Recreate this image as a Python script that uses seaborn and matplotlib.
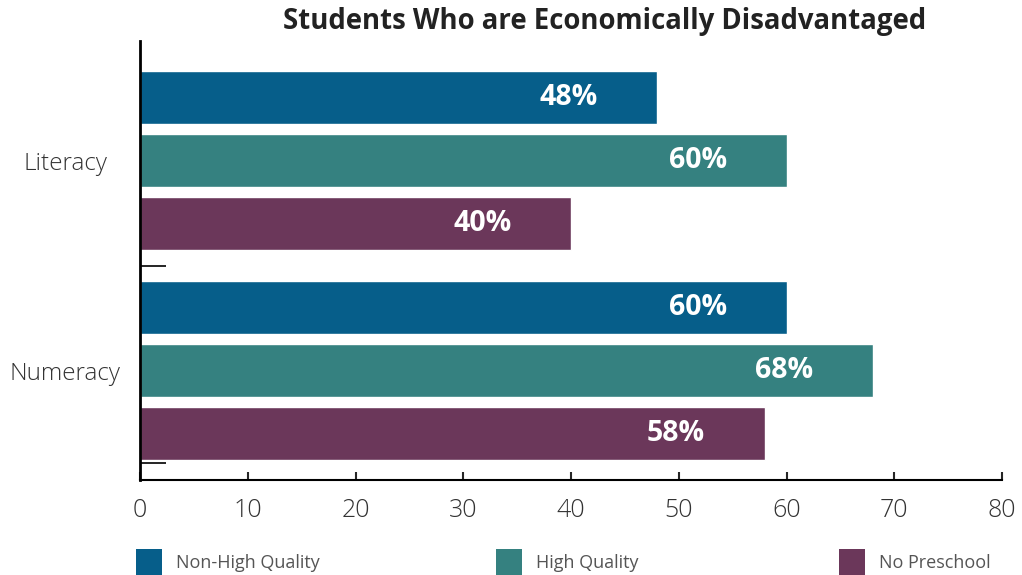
import pandas as pd
import seaborn as sns
import matplotlib.pyplot as plt
from matplotlib.patches import Patch

# Chart data
subjects = ['Literacy', 'Numeracy']
groups = ['Non-High Quality', 'High Quality', 'No Preschool']
literacy_vals = [48, 60, 40]
numeracy_vals = [60, 68, 58]
x_ticks = [0, 10, 20, 30, 40, 50, 60, 70, 80]
palette = ['#065e8a', '#358180', '#6b375a']

df = pd.DataFrame({
    'subject': [subjects[0]] * 3 + [subjects[1]] * 3,
    'group': groups * 2,
    'value': literacy_vals + numeracy_vals,
})

sns.set_style('white')
plt.rcParams['font.family'] = ['Open Sans', 'DejaVu Sans']

fig = plt.figure(figsize=(10.22, 5.75), dpi=100)
ax = fig.add_axes([140 / 1022, 1 - 480 / 575, 862 / 1022, 439 / 575])

sns.barplot(
    data=df, y='subject', x='value', hue='group',
    hue_order=groups, palette=palette, orient='h',
    width=0.9, gap=0.16, saturation=1, legend=False, ax=ax
)

ax.set_xlim(0, 80)
ax.set_ylim(1.521, -0.569)
ax.set_xticks(x_ticks)
ax.set_xlabel('')
ax.set_ylabel('')

# value labels inside bar ends
for patch in ax.patches:
    w = patch.get_width()
    if w <= 0:
        continue
    ax.annotate(f'{w:.0f}%', (w, patch.get_y() + patch.get_height() / 2),
                xytext=(-43, 0), textcoords='offset points',
                ha='right', va='center', color='white',
                fontsize=20.5, fontweight='bold')

for side in ['top', 'right']:
    ax.spines[side].set_visible(False)
ax.spines['bottom'].set_linewidth(1.5)
ax.spines['left'].set_linewidth(2)
ax.spines['bottom'].set_color('black')
ax.spines['left'].set_color('black')

ax.tick_params(axis='x', direction='in', length=6, width=1.5, pad=13,
               labelsize=18, labelcolor='#333333', bottom=True)
ax.tick_params(axis='y', length=0, pad=54, labelsize=17.5, labelcolor='#333333')
for lbl in ax.get_xticklabels():
    lbl.set_fontweight('light')
for lbl in ax.get_yticklabels():
    lbl.set_fontweight('light')
    lbl.set_horizontalalignment('center')
ax.set_yticks([0.5, 1.44], minor=True)
ax.tick_params(axis='y', which='minor', direction='in', length=19, width=1.2,
               left=True, color='black')

ax.set_title('Students Who are Economically Disadvantaged', x=0.539,
             fontsize=19.8, fontweight='bold', color='#222222', pad=8.5)

# legend entries spread across the bottom
legend_x = [120, 480, 823]
for name, color, lx in zip(groups, palette, legend_x):
    fig.legend([Patch(facecolor=color, edgecolor='none')], [name],
               loc='lower left', bbox_to_anchor=(lx / 1022, -0.03),
               frameon=False, fontsize=13, labelcolor='#555555',
               handlelength=1.4, handleheight=1.9, handletextpad=0.8)

plt.savefig('out.png', dpi=100)
plt.close()
